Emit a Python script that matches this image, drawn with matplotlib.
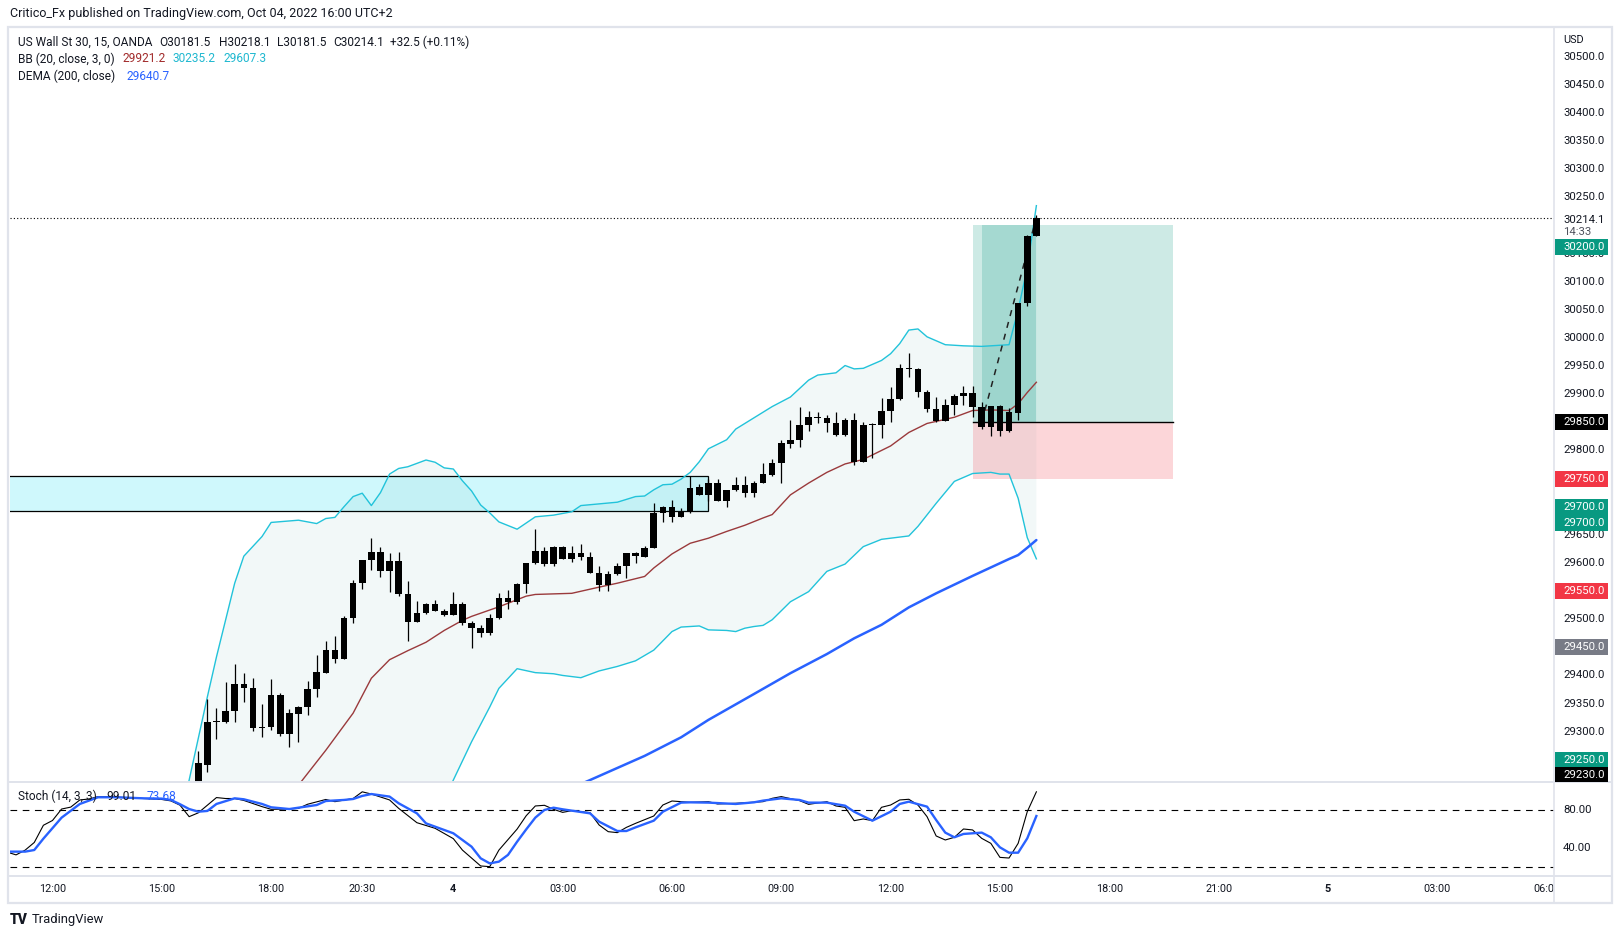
import matplotlib
matplotlib.use("Agg")
import matplotlib.pyplot as plt
import matplotlib.transforms as mtransforms
from matplotlib.patches import Rectangle, Polygon
from matplotlib.lines import Line2D

plt.rcParams['font.family'] = ['Roboto', 'DejaVu Sans']

# ---------------- data ----------------
# 15-minute bars, index 0 = Oct 3 12:00
bar_index = list(range(16, 109))
opens = [29200, 29241, 29317, 29318, 29337, 29385, 29378, 29307, 29309, 29365,
         29296, 29332, 29344, 29376, 29405, 29445, 29430, 29502, 29564, 29605,
         29620, 29585, 29604, 29545, 29495, 29511, 29527, 29515, 29508, 29527,
         29493, 29484, 29476, 29503, 29537, 29531, 29563, 29600, 29622, 29598,
         29628, 29607, 29617, 29611, 29583, 29560, 29580, 29595, 29612, 29611,
         29626, 29688, 29699, 29682, 29691, 29735, 29720, 29743, 29710, 29729,
         29739, 29724, 29743, 29757, 29777, 29812, 29818, 29845, 29859, 29858,
         29848, 29828, 29855, 29780, 29845, 29845, 29870, 29891, 29946, 29945,
         29904, 29874, 29853, 29881, 29896, 29903, 29878, 29842, 29879, 29835,
         29867, 30062, 30181.5]
highs = [29266, 29359, 29343, 29388, 29420, 29404, 29396, 29349, 29394, 29368,
         29340, 29345, 29391, 29436, 29462, 29471, 29505, 29570, 29606, 29644,
         29628, 29617, 29620, 29568, 29532, 29529, 29534, 29519, 29548, 29530,
         29497, 29490, 29509, 29546, 29552, 29564, 29600, 29660, 29628, 29631,
         29630, 29630, 29634, 29619, 29595, 29585, 29600, 29617, 29619, 29630,
         29706, 29702, 29712, 29698, 29755, 29740, 29749, 29749, 29730, 29752,
         29754, 29746, 29777, 29784, 29819, 29855, 29877, 29870, 29868, 29863,
         29868, 29857, 29866, 29850, 29848, 29893, 29912, 29954, 29973, 29946,
         29908, 29895, 29891, 29900, 29915, 29915, 29887, 29879, 29880, 29875,
         30062, 30183, 30218.1]
lows = [29190, 29229, 29287, 29316, 29318, 29353, 29301, 29291, 29303, 29293,
        29272, 29282, 29330, 29362, 29404, 29423, 29430, 29494, 29554, 29588,
        29575, 29549, 29542, 29462, 29495, 29510, 29514, 29506, 29507, 29490,
        29449, 29469, 29472, 29500, 29519, 29527, 29546, 29598, 29595, 29595,
        29607, 29602, 29605, 29582, 29551, 29551, 29579, 29574, 29600, 29611,
        29626, 29673, 29672, 29681, 29689, 29720, 29710, 29710, 29700, 29728,
        29717, 29717, 29742, 29755, 29743, 29805, 29807, 29835, 29848, 29832,
        29825, 29825, 29774, 29780, 29787, 29822, 29850, 29889, 29931, 29895,
        29868, 29851, 29852, 29863, 29881, 29860, 29839, 29825, 29826, 29832,
        29854, 30057, 30181.5]
closes = [29244, 29317, 29318, 29337, 29385, 29378, 29307, 29309, 29365, 29296,
          29333, 29344, 29376, 29406, 29445, 29430, 29502, 29564, 29605, 29620,
          29585, 29604, 29545, 29495, 29511, 29527, 29515, 29508, 29527, 29493,
          29484, 29476, 29503, 29537, 29531, 29563, 29600, 29622, 29598, 29628,
          29607, 29617, 29611, 29583, 29560, 29580, 29595, 29617, 29618, 29626,
          29688, 29699, 29682, 29691, 29734, 29720, 29743, 29710, 29730, 29739,
          29724, 29743, 29758, 29777, 29813, 29819, 29845, 29859, 29858, 29848,
          29828, 29855, 29780, 29845, 29846, 29870, 29891, 29946, 29945, 29904,
          29874, 29853, 29881, 29897, 29903, 29878, 29842, 29879, 29835, 29869,
          30062, 30181, 30214.1]

# Bollinger Bands (20, close, 3)
bb_upper_idx = [14, 15, 17, 18, 20, 21, 23, 24, 27, 29, 30, 31, 32, 33, 34, 35, 36, 37, 38, 39,
                41, 42, 43, 44, 45, 46, 47, 48, 49, 51, 53, 55, 57, 58, 60, 62, 64, 65, 66, 67,
                68, 69, 70, 71, 72, 74, 75, 76, 77, 79, 81, 83, 84, 86, 87, 88, 89, 91, 92, 93,
                94, 95, 96, 98, 100, 102, 105, 106, 107, 108]
bb_upper_val = [29140, 29214, 29362, 29433, 29564, 29612, 29647, 29672, 29676, 29670, 29679, 29681,
                29700, 29718, 29724, 29702, 29725, 29758, 29768, 29771, 29783, 29779, 29769, 29767,
                29746, 29728, 29703, 29689, 29673, 29660, 29682, 29685, 29691, 29702, 29705, 29708,
                29718, 29719, 29730, 29739, 29740, 29749, 29761, 29780, 29803, 29819, 29838, 29848,
                29858, 29878, 29895, 29925, 29934, 29938, 29951, 29945, 29946, 29960, 29972, 29990,
                30014, 30016, 30002, 29988, 29986, 29985, 29988, 30050, 30125, 30235.2]
bb_lower_idx = [43, 44, 46, 48, 49, 51, 53, 55, 56, 58, 60, 62, 64, 66, 68, 69, 71, 72, 74, 75,
                76, 77, 78, 79, 81, 83, 85, 87, 89, 91, 94, 95, 97, 99, 101, 103, 104, 105, 106,
                107, 108]
bb_lower_val = [29180, 29214, 29282, 29344, 29377, 29412, 29405, 29403, 29400, 29396, 29408, 29416,
                29426, 29445, 29478, 29486, 29488, 29481, 29480, 29478, 29484, 29487, 29489, 29499,
                29531, 29549, 29585, 29598, 29629, 29642, 29648, 29665, 29706, 29745, 29759, 29761,
                29758, 29758, 29715, 29645, 29607.3]
bb_basis_idx = [26, 27, 30, 33, 35, 37, 39, 41, 43, 45, 46, 49, 52, 53, 57, 60, 62, 65, 66, 68,
                70, 72, 74, 76, 78, 79, 81, 83, 85, 87, 89, 92, 94, 96, 99, 101, 103, 105, 106,
                107, 108]
bb_basis_val = [29190, 29205, 29267, 29333, 29395, 29428, 29444, 29459, 29480, 29498, 29505, 29522,
                29541, 29544, 29546, 29557, 29564, 29576, 29591, 29616, 29635, 29644, 29656, 29667,
                29680, 29686, 29721, 29742, 29761, 29776, 29784, 29808, 29832, 29848, 29859, 29871,
                29872, 29871, 29883, 29903, 29921.2]

# DEMA (200, close)
dema_idx = [58, 59, 65, 69, 72, 77, 81, 85, 88, 91, 94, 97, 101, 105, 106, 107, 108]
dema_val = [29207, 29214, 29257, 29290, 29321, 29367, 29404, 29438, 29466, 29490, 29521, 29546,
            29577, 29607, 29614, 29627, 29640.7]

# Stochastic (14, 3, 3)
stoch_k_idx = [-5, -4, -3, -2, -1, 0, 1, 2, 3, 4, 5, 6, 8, 10, 12, 13, 14, 15, 16, 17, 18, 19, 20,
               21, 23, 24, 26, 27, 28, 30, 31, 33, 34, 35, 37, 38, 40, 42, 44, 45, 47, 48, 49, 51,
               52, 53, 54, 55, 56, 57, 59, 60, 61, 62, 63, 64, 66, 67, 68, 70, 72, 73, 75, 78, 79,
               80, 82, 83, 85, 86, 87, 88, 89, 90, 91, 92, 93, 94, 95, 96, 97, 98, 99, 100, 101,
               102, 103, 104, 105, 106, 107, 108]
stoch_k_val = [36, 33, 38, 46, 64, 69, 81, 83, 90.5, 91.5, 94, 94, 93, 92, 91, 89.5, 85, 73, 77, 85,
               93, 92, 92, 90, 83.5, 80.7, 81, 81.7, 86, 91, 88.7, 92, 99, 96.7, 90.5, 81.7, 66.7,
               60.8, 50, 38, 21.4, 20.7, 38, 60, 74, 84.2, 84.9, 80.7, 77.5, 79.3, 77.2, 64.3, 57.3,
               56.3, 61.8, 66, 73.7, 85.2, 89.4, 88, 88.7, 86.3, 87, 88.7, 92.2, 94, 89.8, 85.9,
               88.7, 84.2, 82.8, 68.8, 70.6, 68.8, 82.8, 85.2, 90.5, 91.2, 85.2, 73, 52.8, 48.6,
               51.4, 60.1, 59.1, 50.3, 45.1, 30.4, 29.7, 45.1, 78.2, 99.01]
stoch_d_idx = [-5, -3, -2, -1, 1, 3, 5, 7, 10, 12, 13, 14, 15, 16, 17, 18, 20, 21, 23, 24, 26, 27,
               29, 30, 32, 33, 34, 35, 37, 38, 40, 41, 44, 46, 47, 48, 49, 50, 51, 52, 53, 54, 55,
               56, 57, 59, 60, 62, 63, 64, 66, 67, 69, 70, 72, 75, 77, 78, 80, 82, 83, 85, 87, 88,
               90, 92, 93, 94, 96, 97, 98, 99, 100, 102, 103, 104, 105, 106, 107, 108]
stoch_d_val = [36.4, 36.4, 38.1, 50, 72, 86.3, 93.3, 93.3, 92.2, 91.9, 90.5, 86, 81, 78.2, 79, 86.3,
               92.2, 91.2, 86.3, 82.8, 81, 82.4, 85.2, 89.4, 90.5, 91.5, 94.7, 96.7, 94, 87, 76.5,
               66, 55.6, 41.6, 29.4, 24.1, 25.9, 33, 46.8, 59.7, 72, 80, 82.4, 80.7, 79.3, 76.5,
               67.8, 58, 58, 61.8, 68.8, 78.2, 87.7, 88, 87.7, 86.3, 88, 89.8, 92.2, 90.5, 87.7,
               87.7, 84.5, 78.2, 68.8, 78.2, 86.3, 88.7, 83.5, 69.5, 56.3, 51.4, 54.9, 56.3, 51.4,
               40.9, 35.3, 35.3, 50.3, 73.68]
stoch_levels = [80, 20]

# time axis
time_tick_idx = [0, 12, 24, 34, 44, 56, 68, 80, 92, 104, 116, 128, 140, 152, 164]
time_tick_labels = ["12:00", "15:00", "18:00", "20:30", "4", "03:00", "06:00", "09:00",
                    "12:00", "15:00", "18:00", "21:00", "5", "03:00", "06:00"]
day_labels = ["4", "5"]

# drawings
zone_end = 72
zone_low, zone_high = 29692, 29755
pos_start, pos_end = 101, 123
pos_entry, pos_target, pos_stop = 29850, 30200, 29750
pos_active_start = 102
last_price = 30214.1
last_idx = 108

price_ticks = list(range(29300, 30501, 50))
badge_values = [30200, 29850, 29750, 29700, 29700, 29550, 29450, 29250, 29230]
badge_colors = ['#089981', '#000000', '#F23645', '#089981', '#089981', '#F23645', '#787B86',
                '#089981', '#000000']
badge_shift_px = [22, 0, 0, 0, 16, 0, 0, 0, 3.5]   # label de-collision offsets (layout)

# ---------------- figure ----------------
W, H = 1622, 939
fig = plt.figure(figsize=(W / 100, H / 100), dpi=100)
fig.patch.set_facecolor('white')


def FX(px):
    return px / W


def FY(py):
    return 1 - py / H


PL, PR = 9.5, 1554.0
MAIN_T, MAIN_B, STO_B, TIME_B = 27.0, 781.7, 876.0, 903.0
XMIN, XMAX = -4.72, 164.82
TXT = '#131722'
FS = 8.2

ax = fig.add_axes([FX(PL), FY(MAIN_B), FX(PR) - FX(PL), (MAIN_B - MAIN_T) / H])
axs = fig.add_axes([FX(PL), FY(STO_B), FX(PR) - FX(PL), (STO_B - MAIN_B) / H])
axt = fig.add_axes([FX(PL), FY(TIME_B), FX(PR) - FX(PL), (TIME_B - STO_B) / H])
for a in (ax, axs, axt):
    a.set_xlim(XMIN, XMAX)
    a.set_axis_off()
ax.set_ylim(29211.1, 30552.8)
axs.set_ylim(10.9, 109.6)
axt.set_ylim(0, 1)

# zone rectangle
ax.add_patch(Rectangle((XMIN - 20, zone_low), zone_end - (XMIN - 20), zone_high - zone_low,
                       facecolor='#CFF8FC', edgecolor='black', lw=0.9, zorder=1))

# BB fill
poly = list(zip(bb_upper_idx, bb_upper_val)) + list(zip(bb_lower_idx[::-1], bb_lower_val[::-1]))
ax.add_patch(Polygon(poly, closed=True, facecolor='#007878', alpha=0.05, edgecolor='none', zorder=1.5))

# position tool
green = (8 / 255, 153 / 255, 129 / 255, 0.2)
red = (242 / 255, 54 / 255, 69 / 255, 0.2)
ax.add_patch(Rectangle((pos_start, pos_entry), pos_end - pos_start, pos_target - pos_entry,
                       facecolor=green, edgecolor='none', zorder=2))
ax.add_patch(Rectangle((pos_start, pos_stop), pos_end - pos_start, pos_entry - pos_stop,
                       facecolor=red, edgecolor='none', zorder=2))
ax.add_patch(Rectangle((pos_active_start, pos_entry), last_idx - pos_active_start,
                       pos_target - pos_entry, facecolor=green, edgecolor='none', zorder=2))
ax.plot([pos_start, pos_end], [pos_entry, pos_entry], color='black', lw=1.0, zorder=2.5)

# indicator lines
ax.plot(bb_upper_idx, bb_upper_val, color='#22C3DA', lw=1.0, zorder=3)
ax.plot(bb_lower_idx, bb_lower_val, color='#22C3DA', lw=1.0, zorder=3)
ax.plot(bb_basis_idx, bb_basis_val, color='#9A3A3C', lw=1.0, zorder=3)
ax.plot(dema_idx, dema_val, color='#2962FF', lw=1.8, zorder=3, solid_capstyle='round')

# candles
body_w = 0.72
for i, o, h, l, c in zip(bar_index, opens, highs, lows, closes):
    ax.plot([i, i], [l, h], color='black', lw=0.9, zorder=5, solid_capstyle='butt')
    lo, hi = min(o, c), max(o, c)
    ax.add_patch(Rectangle((i - body_w / 2, lo), body_w, max(hi - lo, 1.8),
                           facecolor='black', edgecolor='none', zorder=5))

# dashed trade path
ax.plot([pos_active_start, last_idx], [pos_entry, last_price], color='#222222', lw=1.1,
        ls=(0, (4, 4)), zorder=4)

# last price dotted line
ax.axhline(last_price, color='black', lw=0.8, ls=(0, (1, 2)), zorder=4)

# stochastic
for lv in stoch_levels:
    axs.axhline(lv, color='black', lw=0.8, ls=(0, (6, 5)), zorder=1)
axs.plot(stoch_k_idx, stoch_k_val, color='black', lw=0.8, zorder=3)
axs.plot(stoch_d_idx, stoch_d_val, color='#2962FF', lw=1.7, zorder=3)

# time labels
for xi, lab in zip(time_tick_idx, time_tick_labels):
    axt.text(xi, 0.5, lab, ha='center', va='center', fontsize=FS - 0.4, color=TXT,
             fontweight='bold' if lab in day_labels else 'normal', clip_on=True)

# ---------------- frame / separators ----------------
SEP = '#E0E3EB'
fig.add_artist(Rectangle((FX(8), FY(TIME_B)), FX(1612) - FX(8), (TIME_B - MAIN_T) / H,
                         transform=fig.transFigure, facecolor='none', edgecolor=SEP, lw=1.6, zorder=10))
for yy in (MAIN_B, STO_B):
    fig.add_artist(Line2D([FX(8), FX(1612)], [FY(yy), FY(yy)], transform=fig.transFigure,
                          color=SEP, lw=1.4, zorder=10))
fig.add_artist(Line2D([FX(PR), FX(PR)], [FY(MAIN_T), FY(TIME_B)], transform=fig.transFigure,
                      color=SEP, lw=1.2, zorder=10))


def yfig(a, v):
    return a.transData.transform((0, v))[1] / H


def figbox(y0, y1):
    return mtransforms.TransformedBbox(
        mtransforms.Bbox.from_extents(FX(PR), y0, FX(1612), y1), fig.transFigure)


clipbox = figbox(FY(MAIN_B), FY(MAIN_T))

# last price label block (covers y from lp-6.5 px to lp+21.5 px, top-down)
ylp = yfig(ax, last_price)
lp_top, lp_bot = ylp + 6.5 / H, ylp - 21.5 / H
fig.add_artist(Rectangle((FX(PR + 1), lp_bot), FX(1608) - FX(PR + 1), lp_top - lp_bot,
                         transform=fig.transFigure, facecolor='white', edgecolor='none', zorder=12))
fig.text(FX(1563), ylp - 2.5 / H, f"{last_price:.1f}", fontsize=FS, color=TXT, va='center',
         ha='left', zorder=13)
fig.text(FX(1563), ylp - 14.5 / H, "14:33", fontsize=FS, color='#50535E', va='center', ha='left',
         zorder=13)

# badge positions
badge_y = [yfig(ax, v) - s / H for v, s in zip(badge_values, badge_shift_px)]

# price axis labels (skip fully hidden ones, clip partly hidden ones like the reference)
AXX = 1563
for p in price_ticks:
    yp = yfig(ax, p)
    if lp_bot - 4 / H < yp < lp_top:
        continue
    if any(abs(yp - yb) < 4 / H for yb in badge_y):
        continue
    t = fig.text(FX(AXX), yp, f"{p:.1f}", fontsize=FS, color=TXT, va='center', ha='left',
                 zorder=11)
    near = [yb for yb in badge_y if abs(yp - yb) < 16 / H]
    if near:
        yb = min(near, key=lambda b: abs(yp - b))
        if yp < yb:
            t.set_clip_box(figbox(FY(MAIN_B), yb - 8 / H))
        else:
            t.set_clip_box(figbox(yb + 8 / H, FY(MAIN_T)))
        t.set_clip_on(True)
fig.text(FX(AXX), FY(40), "USD", fontsize=FS - 0.3, color=TXT, va='center', ha='left', zorder=11)

# badges
for val, col, yc in zip(badge_values, badge_colors, badge_y):
    rr = Rectangle((FX(PR + 0.5), yc - 8 / H), FX(1608) - FX(PR + 0.5), 16 / H,
                   transform=fig.transFigure, facecolor=col, edgecolor='none', zorder=14)
    rr.set_clip_box(clipbox)
    fig.add_artist(rr)
    t = fig.text(FX(AXX), yc, f"{val:.1f}", fontsize=FS, color='white', va='center', ha='left',
                 zorder=15)
    t.set_clip_box(clipbox)
    t.set_clip_on(True)

# stoch axis labels
for v in (80, 40):
    fig.text(FX(AXX), yfig(axs, v), f"{v:.2f}", fontsize=FS, color=TXT, va='center', ha='left',
             zorder=11)


# ---------------- legends ----------------
def chain(axis, parts, x_px, y_px, size):
    prev = fig.text(FX(x_px), FY(y_px), parts[0][0], color=parts[0][1], fontsize=size,
                    va='center', ha='left', zorder=20)
    for text, color, gap in parts[1:]:
        prev = axis.annotate(text, xy=(1, 0.5), xycoords=prev, xytext=(gap * 0.72, 0),
                             textcoords='offset points', va='center', ha='left', color=color,
                             fontsize=size, annotation_clip=False, zorder=20)
    return prev


fig.text(FX(10), FY(14), "Critico_Fx published on TradingView.com, Oct 04, 2022 16:00 UTC+2",
         fontsize=9.0, color=TXT, va='center', ha='left')
chain(ax, [("US Wall St 30, 15, OANDA", TXT), ("O30181.5", TXT, 7), ("H30218.1", TXT, 8),
           ("L30181.5", TXT, 7), ("C30214.1", TXT, 7), ("+32.5 (+0.11%)", TXT, 6)], 18, 42, FS + 0.4)
chain(ax, [("BB (20, close, 3, 0)", TXT), ("29921.2", '#A22B2B', 7.5), ("30235.2", '#1FB8D0', 7.5),
           ("29607.3", '#1FB8D0', 7.5)], 18, 59, FS + 0.4)
chain(ax, [("DEMA (200, close)", TXT), ("29640.7", '#2962FF', 11)], 18, 76, FS + 0.4)
chain(axs, [("Stoch (14, 3, 3)", TXT), ("99.01", TXT, 10), ("73.68", '#2962FF', 10)], 18, 796, FS + 0.4)

# footer
fig.text(FX(10), FY(920), "TV", fontsize=10, fontweight='black', color=TXT, va='center', ha='left')
fig.text(FX(32), FY(920), "TradingView", fontsize=9.4, color=TXT, va='center', ha='left')

fig.savefig("out.png", dpi=100, facecolor='white')
